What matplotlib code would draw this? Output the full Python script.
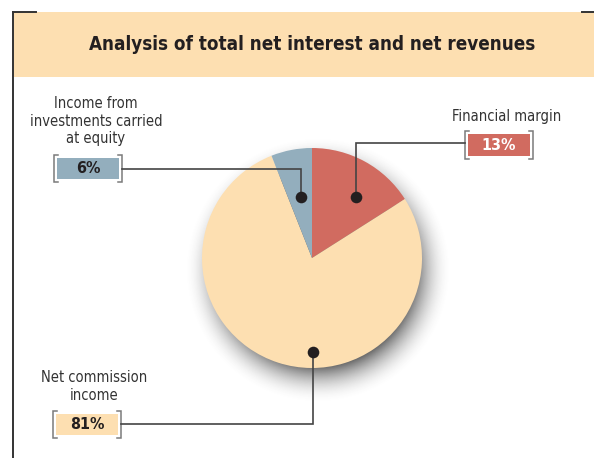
import numpy as np
import matplotlib.pyplot as plt
from matplotlib.patches import Rectangle

# data
categories = ['Financial margin', 'Net commission\nincome', 'Income from\ninvestments carried\nat equity']
shares = [16, 78, 6]            # slice sizes as drawn in the picture
pct_labels = ['13%', '81%', '6%']  # printed values
colors = ['#D16B60', '#FDDFB1', '#93AEBD']
title = 'Analysis of total net interest and net revenues'

W, H = 594, 458
plt.rcParams['font.family'] = ['DejaVu Sans']
plt.rcParams['font.stretch'] = 'condensed'

def Y(y):
    return H - y

fig = plt.figure(figsize=(W / 100, H / 100), dpi=100)
ax = fig.add_axes([0, 0, 1, 1])

# header band + frame lines
ax.add_patch(Rectangle((13, Y(77)), W - 13, 65, color='#FDDFB1', lw=0, zorder=1))
ax.plot([13, 13], [Y(12), Y(H)], color='#333333', lw=1.4, zorder=2)
ax.plot([13, 36], [Y(12), Y(12)], color='#333333', lw=1.4, zorder=2)
ax.plot([582, 594], [Y(12), Y(12)], color='#333333', lw=1.4, zorder=2)
ax.text(312, Y(45), title, ha='center', va='center', fontsize=13.5,
        fontweight='bold', color='#231F20', zorder=3)

# pie
cx, cy, R = 312, 258, 110

# soft shadow under the pie
n = 400
gx = np.linspace(cx - R - 40, cx + R + 50, n)
gy = np.linspace(cy - R - 40, cy + R + 50, n)
XX, YY = np.meshgrid(gx, gy)
d = np.hypot(XX - (cx + 6), YY - (cy + 12))
t = np.clip((d - (R - 14)) / 38, 0, 1)
a = (1 - t) ** 2 * 0.85
img = np.zeros((n, n, 4))
img[..., :3] = 0.28
img[..., 3] = a
ax.imshow(img, extent=(gx[0], gx[-1], Y(gy[-1]), Y(gy[0])), origin='upper',
          zorder=3, interpolation='bilinear')

ax.pie(shares, colors=colors, startangle=90, counterclock=False,
       center=(cx, Y(cy)), radius=R, wedgeprops=dict(lw=0, zorder=4))
for w in ax.patches[-3:]:
    w.set_zorder(4)

def bracket_box(x0, x1, y0, y1, fill, txt, tcolor):
    ax.add_patch(Rectangle((x0, Y(y1)), x1 - x0, y1 - y0, color=fill, lw=0, zorder=5))
    bx0, bx1, by0, by1 = x0 - 3, x1 + 3, y0 - 3, y1 + 3
    for bx, s in ((bx0, 1), (bx1, -1)):
        ax.plot([bx + 4 * s, bx, bx, bx + 4 * s], [Y(by0), Y(by0), Y(by1), Y(by1)],
                color='#7a7a7a', lw=1.1, zorder=5, solid_joinstyle='miter')
    ax.text((x0 + x1) / 2, Y((y0 + y1) / 2), txt, ha='center', va='center',
            fontsize=11.5, fontweight='bold', color=tcolor, zorder=6)

def leader(pts):
    xs = [p[0] for p in pts]
    ys = [Y(p[1]) for p in pts]
    ax.plot(xs, ys, color='#444444', lw=1.2, zorder=6, solid_joinstyle='miter')
    ax.scatter([xs[0]], [ys[0]], s=70, color='#231F20', zorder=7, lw=0)

# financial margin
leader([(356, 197), (356, 143), (465, 143)])
bracket_box(468, 530, 134, 156, colors[0], pct_labels[0], 'white')
ax.text(507, Y(116), categories[0], ha='center', va='center', fontsize=10.5, color='#333333')

# net commission income
leader([(313, 352), (313, 424), (121, 424)])
bracket_box(56, 118, 414, 435, colors[1], pct_labels[1], '#231F20')
ax.text(94, Y(386), categories[1], ha='center', va='center', fontsize=10.5,
        color='#333333', linespacing=1.25)

# income from investments at equity
leader([(301, 197), (301, 169), (122, 169)])
bracket_box(57, 119, 158, 179, colors[2], pct_labels[2], '#231F20')
ax.text(96, Y(121), categories[2], ha='center', va='center', fontsize=10.5,
        color='#333333', linespacing=1.25)

ax.set_xlim(0, W)
ax.set_ylim(0, H)
ax.set_aspect('equal')
ax.axis('off')
fig.savefig('out.png', dpi=100)
